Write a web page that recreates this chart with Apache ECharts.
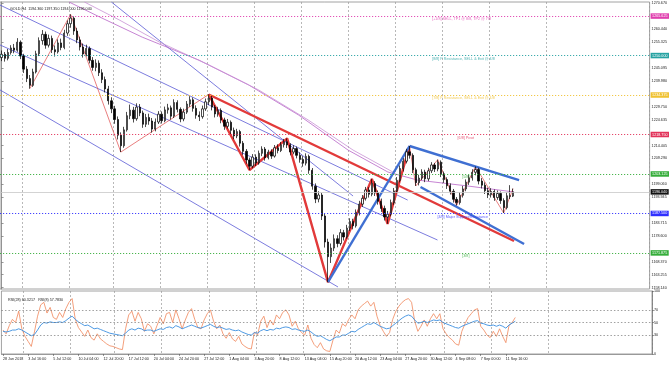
<!DOCTYPE html>
<html><head><meta charset="utf-8">
<script src="https://cdn.jsdelivr.net/npm/echarts@6/dist/echarts.min.js"></script>
<style>html,body{margin:0;padding:0;background:#fff}#c{width:670px;height:366px}</style>
</head><body><div id="c"></div>
<script>
// ---------- data ----------
const tickLabels = ['28 Jun 2018','3 Jul 16:00','5 Jul 12:00','10 Jul 04:00','12 Jul 20:00','17 Jul 12:00','20 Jul 04:00','24 Jul 20:00','27 Jul 12:00','1 Aug 04:00','3 Aug 20:00','8 Aug 12:00','13 Aug 04:00','15 Aug 20:00','20 Aug 12:00','23 Aug 04:00','27 Aug 20:00','30 Aug 12:00','4 Sep 08:00','7 Sep 00:00','11 Sep 16:00'];
const weekStarts = [7,22,36,51,66,81,96,111,126,141,156,174];
const priceTicks = [1158.140,1163.255,1168.370,1178.600,1183.715,1193.945,1199.060,1209.290,1214.405,1224.635,1229.750,1239.980,1245.095,1255.325,1260.440,1270.670];
const rsiTicks = [0,30,50,70,100];
// [open, close, low, high]
const candles = [
[1249.2,1250.5,1247.8,1252.0],[1250.5,1248.9,1247.6,1251.4],[1248.9,1251.2,1248.1,1252.6],[1251.2,1253.0,1250.4,1254.1],
[1253.0,1252.1,1250.9,1254.6],[1252.1,1255.3,1251.5,1256.9],[1255.3,1249.8,1248.6,1256.0],[1249.8,1244.6,1243.1,1250.7],
[1244.6,1240.9,1239.5,1245.8],[1240.9,1238.2,1236.9,1242.3],[1238.2,1243.5,1237.6,1244.8],[1243.5,1250.7,1242.9,1251.9],
[1250.7,1255.9,1249.8,1257.2],[1255.9,1258.4,1254.3,1260.1],[1258.4,1254.1,1252.7,1259.5],[1254.1,1256.8,1253.2,1258.3],
[1256.8,1252.3,1251.0,1257.9],[1252.3,1251.5,1249.6,1254.0],[1251.5,1255.0,1250.8,1256.4],[1255.0,1253.2,1252.1,1256.7],
[1253.2,1258.9,1252.5,1260.2],[1258.9,1262.6,1257.8,1263.9],[1262.6,1264.8,1261.0,1266.3],[1264.8,1259.7,1258.2,1265.5],
[1259.7,1256.2,1254.9,1261.0],[1256.2,1253.4,1252.0,1257.5],[1253.4,1250.6,1249.2,1254.8],[1250.6,1252.8,1249.7,1254.3],
[1252.8,1248.1,1246.9,1253.6],[1248.1,1245.3,1244.0,1249.4],[1245.3,1247.0,1243.8,1248.5],[1247.0,1243.2,1241.9,1248.1],
[1243.2,1240.5,1239.1,1244.6],[1240.5,1236.8,1235.4,1241.7],[1236.8,1232.1,1230.6,1238.0],[1232.1,1228.9,1227.2,1233.5],
[1228.9,1224.7,1223.0,1230.1],[1224.7,1218.5,1216.8,1225.9],[1218.5,1214.3,1211.8,1219.6],[1214.3,1220.6,1213.5,1221.8],
[1220.6,1226.2,1219.9,1227.7],[1226.2,1228.4,1224.8,1230.6],[1228.4,1225.0,1223.5,1229.7],[1225.0,1229.6,1224.2,1231.1],
[1229.6,1227.3,1226.0,1230.8],[1227.3,1222.8,1221.4,1228.2],[1222.8,1225.5,1221.7,1226.9],[1225.5,1224.1,1222.6,1227.0],
[1224.1,1220.9,1219.5,1225.3],[1220.9,1223.7,1220.0,1225.1],[1223.7,1226.8,1222.9,1228.0],[1226.8,1224.2,1223.1,1227.9],
[1224.2,1228.5,1223.6,1229.8],[1228.5,1229.3,1227.0,1230.9],[1229.3,1226.0,1224.7,1230.2],[1226.0,1231.4,1225.3,1232.7],
[1231.4,1228.7,1227.5,1232.3],[1228.7,1224.9,1223.6,1229.5],[1224.9,1227.6,1224.0,1229.0],[1227.6,1230.8,1226.9,1232.0],
[1230.8,1232.5,1229.7,1233.9],[1232.5,1229.1,1227.8,1233.4],[1229.1,1226.4,1225.0,1230.3],[1226.4,1225.8,1224.1,1227.9],
[1225.8,1228.9,1225.0,1230.2],[1228.9,1231.7,1228.1,1233.0],[1231.7,1233.2,1230.4,1234.6],[1233.2,1229.6,1228.3,1234.0],
[1229.6,1226.9,1225.5,1230.4],[1226.9,1228.3,1225.8,1229.7],[1228.3,1224.5,1223.2,1229.1],[1224.5,1222.0,1220.6,1225.4],
[1222.0,1223.6,1221.1,1224.9],[1223.6,1220.4,1219.0,1224.3],[1220.4,1218.2,1216.9,1221.5],[1218.2,1219.9,1217.3,1221.0],
[1219.9,1215.3,1214.0,1220.6],[1215.3,1212.1,1210.7,1216.2],[1212.1,1208.7,1207.2,1213.0],[1208.7,1206.2,1204.7,1209.6],
[1206.2,1209.8,1205.4,1211.0],[1209.8,1207.5,1206.3,1210.9],[1207.5,1211.3,1206.8,1212.4],[1211.3,1213.0,1210.2,1214.1],
[1213.0,1209.6,1208.4,1213.8],[1209.6,1211.8,1208.9,1212.7],[1211.8,1210.2,1209.1,1212.9],[1210.2,1213.5,1209.6,1214.6],
[1213.5,1212.4,1211.3,1214.9],[1212.4,1214.7,1211.8,1215.8],[1214.7,1215.9,1213.6,1217.0],[1215.9,1214.6,1213.4,1217.2],
[1214.6,1211.8,1210.5,1215.3],[1211.8,1213.2,1210.9,1214.5],[1213.2,1210.5,1209.3,1214.0],[1210.5,1208.9,1207.6,1211.7],
[1208.9,1207.4,1206.0,1210.2],[1207.4,1210.1,1206.5,1211.3],[1210.1,1204.6,1203.2,1210.8],[1204.6,1198.3,1196.9,1205.5],
[1198.3,1193.2,1191.6,1199.4],[1193.2,1194.8,1191.9,1196.3],[1194.8,1186.5,1184.9,1195.6],[1186.5,1176.2,1174.0,1187.3],
[1176.2,1170.4,1160.3,1177.5],[1170.4,1173.8,1167.9,1175.6],[1173.8,1177.5,1172.6,1179.2],[1177.5,1175.6,1174.1,1178.9],
[1175.6,1179.9,1174.8,1181.3],[1179.9,1178.2,1176.8,1181.0],[1178.2,1181.7,1177.5,1183.0],[1181.7,1184.3,1180.6,1185.6],
[1184.3,1182.6,1181.2,1185.4],[1182.6,1187.9,1181.9,1189.1],[1187.9,1191.2,1186.7,1192.5],[1191.2,1193.5,1190.1,1194.8],
[1193.5,1196.8,1192.6,1198.0],[1196.8,1195.1,1193.8,1197.9],[1195.1,1199.4,1194.3,1201.2],[1199.4,1195.7,1194.4,1200.3],
[1195.7,1192.3,1191.0,1196.6],[1192.3,1189.5,1188.1,1193.4],[1189.5,1186.1,1184.7,1190.6],[1186.1,1187.2,1183.4,1188.5],
[1187.2,1191.8,1186.4,1193.0],[1191.8,1196.4,1190.9,1197.6],[1196.4,1200.6,1195.5,1201.9],[1200.6,1205.3,1199.8,1206.5],
[1205.3,1208.2,1204.1,1209.4],[1208.2,1211.9,1207.3,1213.1],[1211.9,1210.5,1209.2,1214.2],[1210.5,1204.8,1203.5,1211.3],
[1204.8,1199.7,1198.4,1205.6],[1199.7,1201.5,1198.6,1202.8],[1201.5,1203.9,1200.7,1205.0],[1203.9,1201.2,1199.9,1204.8],
[1201.2,1204.4,1200.3,1205.6],[1204.4,1206.7,1203.5,1207.8],[1206.7,1205.1,1203.9,1207.5],[1205.1,1207.8,1204.2,1208.8],
[1207.8,1203.2,1201.9,1208.5],[1203.2,1200.9,1199.6,1204.1],[1200.9,1198.5,1197.2,1201.8],[1198.5,1196.3,1195.0,1199.4],
[1196.3,1193.1,1191.8,1197.2],[1193.1,1191.8,1190.7,1194.0],[1191.8,1194.7,1191.0,1195.9],[1194.7,1197.2,1193.8,1198.4],
[1197.2,1199.9,1196.3,1201.0],[1199.9,1201.6,1198.8,1202.7],[1201.6,1203.8,1200.5,1205.0],[1203.8,1204.9,1202.6,1206.1],
[1204.9,1200.3,1199.0,1205.6],[1200.3,1198.7,1197.4,1201.5],[1198.7,1196.5,1195.2,1199.8],[1196.5,1194.9,1193.6,1197.7],
[1194.9,1196.2,1193.8,1197.5],[1196.2,1193.8,1192.5,1197.0],[1193.8,1195.4,1192.9,1196.6],[1195.4,1192.6,1191.3,1196.2],
[1192.6,1189.8,1187.7,1193.5],[1189.8,1194.5,1189.1,1195.7],[1194.5,1194.3,1193.2,1198.7],[1194.36,1196.04,1194.0,1197.35]
];
const rsiFast = [38,32,45,55,50,68,40,28,20,12,35,60,78,82,65,74,58,55,66,58,72,82,88,55,42,35,28,38,26,22,32,24,20,16,13,12,10,8,7,40,
62,68,52,66,56,36,48,44,32,45,58,48,64,66,50,70,56,40,54,66,72,55,42,40,54,64,70,52,40,46,32,25,34,24,20,28,16,12,9,8,
35,30,52,60,42,54,46,62,56,66,70,62,44,52,40,34,30,46,25,15,10,18,8,5,4,22,38,33,48,44,55,62,56,70,76,80,84,76,82,60,
45,36,28,34,55,68,76,82,86,88,82,52,36,44,54,44,56,64,56,64,40,32,26,22,16,14,36,48,58,64,70,72,44,38,30,26,36,28,40,28,18,45,50,58];
const rsiSlow = [36,35,36,38,38,40,38,35,32,29,31,38,46,50,49,51,50,50,51,50,53,57,60,55,51,48,45,46,43,40,41,39,37,35,33,32,31,30,29,33,
38,40,38,41,40,37,38,38,36,38,40,39,42,43,41,45,43,40,42,44,46,44,42,41,43,45,47,44,42,43,41,39,40,38,37,38,35,33,31,30,
34,33,37,39,37,39,38,41,40,42,43,42,39,40,38,37,36,38,35,31,28,29,26,23,21,24,27,27,30,30,33,36,35,39,42,45,48,47,50,47,
44,42,40,41,45,49,53,57,60,62,60,54,49,50,52,50,52,54,53,54,50,48,46,44,42,41,44,46,48,50,52,53,49,48,46,45,46,44,46,44,41,46,49,52];
// Murrey levels and current price
const levels = [1265.625,1250.000,1234.375,1218.750,1203.125,1187.500,1171.875];
const levelTexts = ['[+1/8] SELL, TP1 @ 8/8, TP2 @ 7/8','[8/8] P Resistance, SELL & Exit @ 4/8','[7/8] P Resistance, SELL & Exit @ 4/8','[6/8] Pivot','[5/8]','[4/8] Major Support/Resistance','[3/8]'];
const lastPrice = 1196.040;
// drawn objects: [bar index, price]
const zigzag = [[9,1236.9],[22,1266.3],[38,1211.8],[66,1234.6],[79,1204.7],[91,1217.2],[104,1160.3],[118,1201.2],[123,1183.4],[130,1214.2],[132,1198.4],[139,1208.8],[145,1190.7],[151,1206.1],[160,1187.7],[163,1197.35]];
const redPattern = [[66,1234.6],[79,1204.7],[91,1217.2],[104,1160.3],[118,1201.2],[123,1183.4],[130,1214.2]];
const redNeck = [[66,1234.6],[163.3,1176.6]];
const blueRise = [[104,1160.3],[130,1214.2]];
const blueUpper = [[130,1214.2],[164.9,1200.7]];
const blueLower = [[133.5,1198.0],[166.5,1175.4]];
const chanUpper = [[-0.5,1270.0],[129.4,1192.8]];
const chanMid = [[-0.5,1254.2],[138.9,1177.0]];
const chanLow = [[-0.5,1236.4],[107.2,1158.4]];
const trendThin = [[35.0,1271.2],[112.0,1194.4]];
const maFast = [[21.5,1271.2],[31.2,1265.3],[44.8,1257.3],[62.9,1248.2],[78.7,1238.4],[94.6,1226.5],[110.4,1212.6],[123.1,1203.9],[132.6,1200.7],[148.4,1198.4],[163.3,1196.0]];
const maSlow = [[26.4,1271.2],[37.5,1264.1],[50.2,1255.4],[66.0,1246.3],[81.9,1236.4],[97.7,1224.5],[112.0,1212.6],[124.7,1203.9]];

// ---------- styles / layout ----------
const levelColors = ['#e03fae','#27a3a3','#f0c232','#e2335a','#35ad3a','#2f2fff','#35ad3a'];
const levelTextAt = [137.2,137.2,137.2,145.3,146.8,138.9,146.8];
const N = 207;
const cats = Array.from({length:N},(_, i)=>String(i));
const FS = 3.7;
const isLabel = (i)=> i%8===0 && i/8 < tickLabels.length;

const chart = echarts.init(document.getElementById('c'));
const lineS = (data,color,width,type)=>({type:'line',xAxisIndex:2,yAxisIndex:0,data,symbol:'none',silent:true,
  lineStyle:{color,width,type:type||'solid'},z:3});

const series = [
  {type:'candlestick',xAxisIndex:0,yAxisIndex:0,data:candles,barWidth:1.8,
   itemStyle:{color:'#ffffff',color0:'#000000',borderColor:'#000000',borderColor0:'#000000',borderWidth:0.7},z:4,
   markLine:{symbol:'none',silent:true,animation:false,
     data:[...levels.map((v,k)=>({yAxis:v,lineStyle:{color:levelColors[k],type:[1.2,1.8],width:0.9},
        label:{show:true,position:'end',formatter:v.toFixed(3),color:'#fff',backgroundColor:levelColors[k],fontSize:FS,padding:[1,1.5,0.5,1.5],distance:1}})),
       {yAxis:lastPrice,lineStyle:{color:'#c8c8c8',type:'solid',width:0.8},
        label:{show:true,position:'end',formatter:lastPrice.toFixed(3),color:'#fff',backgroundColor:'#111',fontSize:FS,padding:[1,1.5,0.5,1.5],distance:1}}]}},
  lineS(chanUpper,'#5a5ad6',0.8), lineS(chanMid,'#5a5ad6',0.8), lineS(chanLow,'#5a5ad6',0.8),
  lineS(trendThin,'#5a5ad6',0.8),
  lineS(maFast,'#b865c8',0.8), lineS(maSlow,'#c890d4',0.8),
  lineS(zigzag,'#e04848',0.7),
  lineS(redNeck,'#e23a3a',2.4), lineS(redPattern,'#e23a3a',2.4),
  lineS(blueRise,'#3f6fd2',2.4), lineS(blueUpper,'#3f6fd2',2.4), lineS(blueLower,'#3f6fd2',2.4),
  {type:'scatter',xAxisIndex:2,yAxisIndex:0,symbolSize:0,silent:true,z:5,
   data:levels.map((v,k)=>({value:[levelTextAt[k],v],label:{show:true,position:'right',distance:0,offset:[0,3.2],
     formatter:levelTexts[k],color:levelColors[k],fontSize:FS}}))},
  {type:'line',xAxisIndex:1,yAxisIndex:1,data:rsiFast,symbol:'none',lineStyle:{color:'#f0875a',width:0.8},z:3,
   markLine:{symbol:'none',silent:true,animation:false,label:{show:false},lineStyle:{color:'#777',type:[1.5,2],width:0.7},
     data:[{yAxis:30},{yAxis:50},{yAxis:70}]}},
  {type:'line',xAxisIndex:1,yAxisIndex:1,data:rsiSlow,symbol:'none',lineStyle:{color:'#3b8ee0',width:0.9},z:4}
];

const vGrid = {show:true,interval:(i)=>weekStarts.includes(i),lineStyle:{color:'#9a9a9a',type:[2,2],width:0.7}};
chart.setOption({
  animation:false,
  backgroundColor:'#ffffff',
  textStyle:{fontFamily:'Liberation Sans, Arial, sans-serif'},
  title:[
    {text:'GOLD,H4  1194.360 1197.350 1194.000 1196.040',left:5,top:2,textStyle:{fontSize:FS,fontWeight:'normal',color:'#222'}},
    {text:'RSI(28) 60.3217   RSI(8) 57.7830',left:3,top:293,textStyle:{fontSize:FS,fontWeight:'normal',color:'#222'}}
  ],
  grid:[
    {left:0,top:2,width:652,height:287,show:true,borderColor:'#8a8a8a',borderWidth:0.8,backgroundColor:'#fff'},
    {left:0,top:291,width:652,height:63,show:true,borderColor:'#8a8a8a',borderWidth:0.8,backgroundColor:'#fff'}
  ],
  xAxis:[
    {type:'category',gridIndex:0,data:cats,boundaryGap:true,axisLine:{show:false},axisTick:{show:false},axisLabel:{show:false},splitLine:vGrid},
    {type:'category',gridIndex:1,data:cats,boundaryGap:true,axisLine:{show:true,lineStyle:{color:'#8a8a8a',width:0.8}},
     axisTick:{show:true,interval:isLabel,length:2,alignWithLabel:true,lineStyle:{color:'#555',width:0.6}},
     axisLabel:{show:true,interval:isLabel,formatter:(v,i)=>tickLabels[i/8]||'',align:'left',fontSize:FS,color:'#222',margin:3},
     splitLine:vGrid},
    {type:'value',gridIndex:0,min:-0.5,max:N-0.5,show:false}
  ],
  yAxis:[
    {type:'value',gridIndex:0,position:'right',min:1157.6,max:1271.2,splitLine:{show:false},
     axisLine:{show:true,lineStyle:{color:'#777',width:0.8}},
     axisTick:{show:true,length:2,customValues:priceTicks,lineStyle:{color:'#555',width:0.6}},
     axisLabel:{customValues:priceTicks,formatter:v=>v.toFixed(3),fontSize:FS,color:'#222',margin:2}},
    {type:'value',gridIndex:1,position:'right',min:0,max:100,splitLine:{show:false},
     axisLine:{show:true,lineStyle:{color:'#777',width:0.8}},
     axisTick:{show:true,length:2,customValues:rsiTicks,lineStyle:{color:'#555',width:0.6}},
     axisLabel:{customValues:rsiTicks,fontSize:FS,color:'#222',margin:2}}
  ],
  series
});
</script></body></html>
